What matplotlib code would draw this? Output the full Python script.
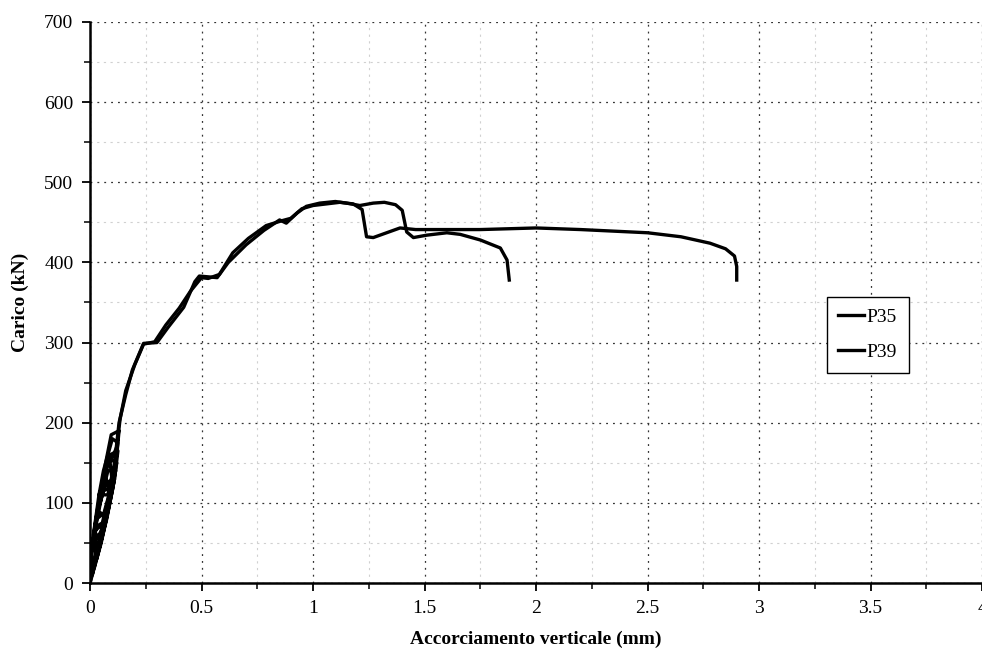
import numpy as np
import matplotlib.pyplot as plt
from matplotlib.ticker import MultipleLocator

#%% data: load vs vertical shortening
# initial load/unload cycles followed by the monotonic branch
p35_x = [0.0, 0.02, 0.05, 0.075, 0.03, 0.005, 0.0, 0.03, 0.07, 0.10, 0.06, 0.03,
         0.005, 0.02, 0.06, 0.10, 0.12, 0.085, 0.05, 0.02, 0.03, 0.07, 0.105,
         0.125, 0.10, 0.06, 0.04, 0.015, 0.045, 0.085, 0.115, 0.08, 0.05,
         0.025, 0.055, 0.09, 0.07, 0.04, 0.08, 0.11, 0.13,
         0.16, 0.19, 0.24, 0.30, 0.35, 0.42, 0.47, 0.49, 0.57, 0.62, 0.70, 0.78,
         0.85, 0.88, 0.93, 0.97, 1.03, 1.10, 1.15, 1.21, 1.27, 1.32, 1.37, 1.40,
         1.42, 1.45, 1.51, 1.60, 1.66, 1.75, 1.84, 1.87, 1.88]
p35_y = [0, 25, 60, 90, 80, 40, 15, 35, 80, 120, 115, 85,
         40, 20, 65, 115, 150, 155, 115, 65, 40, 85, 135,
         175, 180, 140, 110, 60, 60, 100, 140, 140, 105,
         70, 75, 115, 130, 110, 110, 150, 200,
         235, 266, 299, 300, 319, 344, 376, 383, 381, 400, 422, 440,
         453, 449, 462, 470, 474, 476, 474, 471, 474, 475, 472, 465,
         438, 431, 434, 437, 435, 428, 418, 403, 378]

p39_x = [0.0, 0.01, 0.04, 0.065, 0.02, 0.0, 0.01, 0.05, 0.085, 0.11, 0.07, 0.035,
         0.01, 0.03, 0.075, 0.11, 0.125, 0.09, 0.06, 0.03, 0.02, 0.06, 0.095,
         0.12, 0.13, 0.095, 0.07, 0.035, 0.01, 0.04, 0.075, 0.105, 0.065,
         0.035, 0.06, 0.10, 0.09, 0.12, 0.135,
         0.16, 0.20, 0.24, 0.29, 0.34, 0.40, 0.45, 0.50, 0.53, 0.58, 0.64, 0.71,
         0.79, 0.86, 0.90, 0.95, 1.00, 1.06, 1.12, 1.18, 1.22, 1.24, 1.27, 1.33,
         1.39, 1.46, 1.57, 1.75, 2.00, 2.20, 2.50, 2.65, 2.78, 2.85, 2.89, 2.90,
         2.90]
p39_y = [0, 10, 45, 75, 65, 30, 10, 50, 95, 130, 125, 95,
         50, 30, 80, 130, 165, 160, 125, 80, 50, 70, 120,
         160, 190, 185, 150, 95, 45, 50, 85, 125, 120,
         90, 85, 125, 150, 170, 205,
         240, 272, 298, 301, 322, 343, 364, 381, 380, 385, 412, 430,
         446, 452, 455, 467, 471, 473, 475, 473, 466, 432, 431, 437,
         443, 441, 441, 441, 443, 441, 437, 432, 424, 417, 408, 395,
         378]

#%% plot
plt.rcParams['font.family'] = ['Liberation Serif', 'DejaVu Serif']

fig = plt.figure(figsize=(9.82, 6.52), dpi=100)
ax = fig.add_axes([0.0917, 0.1058, 0.9083, 0.8605])

ax.plot(p35_x, p35_y, color='black', lw=2.4, label='P35', solid_joinstyle='round')
ax.plot(p39_x, p39_y, color='black', lw=2.4, label='P39', solid_joinstyle='round')

ax.set_xlim(0, 4)
ax.set_ylim(0, 700)
ax.xaxis.set_major_locator(MultipleLocator(0.5))
ax.xaxis.set_minor_locator(MultipleLocator(0.25))
ax.yaxis.set_major_locator(MultipleLocator(100))
ax.yaxis.set_minor_locator(MultipleLocator(50))
ax.xaxis.set_major_formatter(lambda v, p: f'{v:g}')

ax.grid(which='major', color='#333333', lw=0.9, ls=(0, (1.5, 4)))
ax.grid(which='minor', color='#d0d0d0', lw=0.8, ls=(0, (2, 4)))
ax.set_axisbelow(True)

for s in ['top', 'right']:
    ax.spines[s].set_visible(False)
for s in ['left', 'bottom']:
    ax.spines[s].set_linewidth(1.8)

ax.tick_params(which='major', direction='out', length=6, width=1.3, labelsize=14, pad=6)
ax.tick_params(which='minor', direction='out', length=4, width=1.1)

ax.set_xlabel('Accorciamento verticale (mm)', fontsize=14, fontweight='bold')
ax.set_ylabel('Carico (kN)', fontsize=14, fontweight='bold')
ax.xaxis.set_label_coords(0.5, -0.085)
ax.yaxis.set_label_coords(-0.068, 0.5)

leg = ax.legend(loc='upper left', bbox_to_anchor=(0.826, 0.51), fontsize=14,
                frameon=True, fancybox=False, edgecolor='black', framealpha=1,
                handlelength=1.3, handletextpad=0.15, labelspacing=0.9,
                borderpad=0.6, borderaxespad=0)
leg.get_frame().set_linewidth(1.0)

fig.savefig('out.png', dpi=100)
